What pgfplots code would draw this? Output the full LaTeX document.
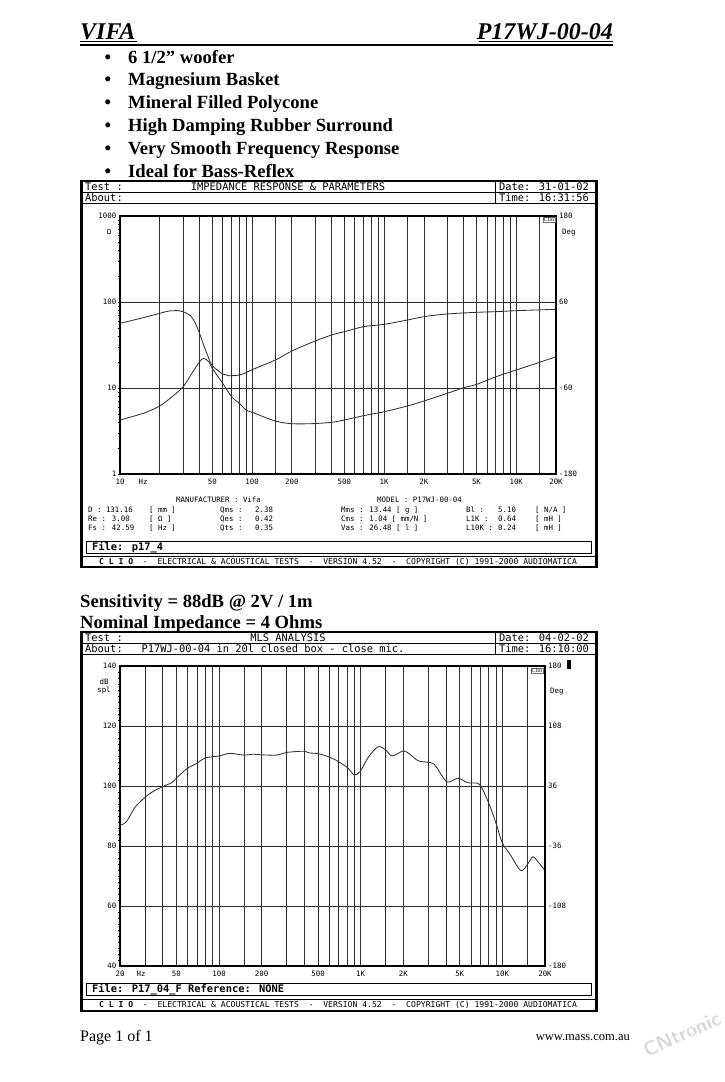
\documentclass[border=0pt]{standalone}
\usepackage{fontspec}
\setmainfont{Liberation Serif}
\newfontfamily\mono{DejaVu Sans Mono}
\usepackage{pgfplots}
\pgfplotsset{compat=1.18}
\newcommand\hdr{\mono\fontsize{10.4}{11}\selectfont}
\newcommand\smf{\mono\fontsize{7.4}{8}\selectfont}
\newcommand\ftf{\mono\fontsize{8.1}{9}\selectfont}
\begin{document}
\begin{tikzpicture}[x=1pt,y=1pt]
\fill[white] (0,0) rectangle (725,-1082);
\path[use as bounding box] (0,0) rectangle (725,-1082);

% ---------- heading ----------
\node[anchor=base west, inner sep=0, font=\fontsize{24}{24}\selectfont\bfseries\itshape] at (80,-39.5) {VIFA};
\node[anchor=base east, inner sep=0, font=\fontsize{24}{24}\selectfont\bfseries\itshape] at (613,-39.5) {P17WJ-00-04};
\draw[line width=1.1pt] (80,-41.8) -- (137,-41.8);
\draw[line width=1.1pt] (479,-41.8) -- (613,-41.8);
\draw[line width=2pt] (80,-44.8) -- (613,-44.8);
\foreach \t [count=\i] in {6 1/2” woofer, Magnesium Basket, Mineral Filled Polycone, High Damping Rubber Surround, Very Smooth Frequency Response, Ideal for Bass-Reflex}{
  \node[anchor=base west, inner sep=0, font=\fontsize{18.6}{19}\selectfont\bfseries] at (128,{-63-22.8*(\i-1)}) {\t};
  \node[anchor=base, inner sep=0, font=\fontsize{18.6}{19}\selectfont\bfseries] at (108,{-63-22.8*(\i-1)}) {\textbullet};
}

% ---------- chart 1 frame ----------
\draw[line width=2.6pt] (81.3,-181) rectangle (596.7,-567);
\draw[line width=0.9pt] (81,-192) -- (597,-192);
\draw[line width=0.9pt] (81,-203) -- (597,-203);
\draw[line width=0.9pt] (495,-181) -- (495,-203);
\node[anchor=west, inner sep=0, font=\hdr] at (85,-186.8) {Test :};
\node[anchor=center, inner sep=0, font=\hdr] at (288,-186.8) {IMPEDANCE RESPONSE \& PARAMETERS};
\node[anchor=west, inner sep=0, font=\hdr] at (499,-186.8) {Date: 31-01-02};
\node[anchor=west, inner sep=0, font=\hdr] at (85,-197.8) {About:};
\node[anchor=west, inner sep=0, font=\hdr] at (499,-197.8) {Time: 16:31:56};

\begin{axis}[at={(120pt,-474pt)}, anchor=south west, scale only axis, width=436pt, height=258pt,
  xmode=log, ymode=log, xmin=10, xmax=20000, ymin=1, ymax=1000,
  grid=major, major grid style={black!82, line width=0.75pt},
  axis line style={black, line width=1.3pt},
  xtick style={draw=none}, ytick style={draw=none},
  major tick length=0pt,
  minor y tick style={draw=black, line width=0.5pt}, minor tick length=2.5pt,
  tick align=outside, ytick pos=left,
  tick label style={font=\smf},
  xticklabel style={anchor=base, yshift=-10.5pt, inner sep=0pt},
  yticklabel style={anchor=east, inner sep=0pt, xshift=-3.5pt},
  xtick={10,20,30,40,50,60,70,80,90,100,150,200,300,400,500,600,700,800,900,1000,1500,2000,3000,4000,5000,6000,7000,8000,9000,10000,15000,20000},
  xticklabels={10,,,,50,,,,,100,,200,,,500,,,,,1K,,2K,,,5K,,,,,10K,,20K},
  ytick={1,10,100,1000}, yticklabels={1,10,100,1000}]
\addplot[black!80, line width=0.85pt, smooth, tension=0.5] coordinates {
(10,4.25) (15,5.08) (20,6.18) (24.8,7.93) (30,10.3) (35,14.8) (40,20.2) (43,22.1) (47,20.2) (50,16.9)
(60,11.3) (70,7.9) (80,6.64) (90,5.55) (100,5.22) (150,4.13) (200,3.85) (284,3.85) (400,3.99)
(500,4.25) (700,4.77) (1000,5.3) (1500,6.18) (2000,7.06) (3000,8.66) (4000,10.08) (5000,11.0)
(7000,13.5) (10000,16.2) (15000,19.9) (20000,23.1)};
\end{axis}
\begin{axis}[at={(120pt,-474pt)}, anchor=south west, scale only axis, width=436pt, height=258pt,
  xmode=log, xmin=10, xmax=20000, ymin=-180, ymax=180,
  axis x line=none, axis y line*=right,
  axis line style={black, line width=1.3pt}, ytick style={draw=none}, major tick length=0pt,
  tick label style={font=\smf},
  yticklabel style={anchor=west, inner sep=0pt, xshift=3pt},
  ytick={-180,-60,60,180}, yticklabels={-180,-60,60,180}]
\addplot[black!80, line width=0.85pt, smooth, tension=0.5] coordinates {
(10,30.3) (15,38.1) (20,44.2) (23.4,47.4) (27.8,47.9) (30,46.5) (34.1,40.9) (37.2,30.3) (40,16.3)
(43,0) (47,-18.6) (50,-28.9) (60,-40.5) (66.5,-42.8) (80,-41.9) (90,-38.6) (100,-34.5) (150,-20.9)
(200,-8.4) (284,3.8) (400,14.0) (500,18.6) (700,25.6) (1000,28.8) (1500,34.9) (2000,39.5)
(3000,43.3) (5000,45.6) (7000,46.5) (10000,47.9) (20000,49.8)};
\end{axis}
\node[anchor=base, inner sep=0, font=\smf] at (143,-484.5) {Hz};
\node[anchor=center, inner sep=0, font=\smf] at (109,-232) {Ω};
\node[anchor=west, inner sep=0, font=\smf] at (562,-233) {Deg};
\node[anchor=north east, draw=black!55, line width=0.4pt, inner sep=0.8pt, font=\fontsize{6}{6}\selectfont] at (555,-216.5) {Clio};

% parameters
\node[anchor=west, inner sep=0, font=\smf] at (176,-500) {MANUFACTURER : Vifa};
\node[anchor=west, inner sep=0, font=\smf] at (377,-500) {MODEL : P17WJ-00-04};
\foreach \y/\a/\b/\c/\d/\e/\f/\g/\h in
  {510/D : 131.16/[ mm ]/Qms :/2.38/Mms : 13.44 [ g ]/Bl/5.10/{[ N{/}A ]},
   519/Re : 3.00/[ Ω ]/Qes :/0.42/{Cms : 1.04  [ mm{/}N ]}/L1K/0.64/[ mH ],
   528/Fs : 42.59/[ Hz ]/Qts :/0.35/Vas : 26.48 [ l ]/L10K/0.24/[ mH ]}{
  \node[anchor=west, inner sep=0, font=\smf] at (88,-\y) {\a};
  \node[anchor=west, inner sep=0, font=\smf] at (149,-\y) {\b};
  \node[anchor=west, inner sep=0, font=\smf] at (220,-\y) {\c};
  \node[anchor=west, inner sep=0, font=\smf] at (255,-\y) {\d};
  \node[anchor=west, inner sep=0, font=\smf] at (341,-\y) {\e};
  \node[anchor=west, inner sep=0, font=\smf] at (466,-\y) {\f\ :};
  \node[anchor=west, inner sep=0, font=\smf] at (498,-\y) {\g};
  \node[anchor=west, inner sep=0, font=\smf] at (535,-\y) {\h};
}
\draw[line width=0.8pt] (86,-541) rectangle (591,-553);
\node[anchor=west, inner sep=0, font=\hdr\bfseries] at (92,-547) {File: p17\_4};
\draw[line width=0.9pt] (81,-556) -- (597,-556);
\node[anchor=center, inner sep=0, font=\ftf] at (338,-561.5) {\textbf{C L I O}\ \ -\ \ ELECTRICAL \& ACOUSTICAL TESTS\ \ -\ \ VERSION 4.52\ \ -\ \ COPYRIGHT (C) 1991-2000 AUDIOMATICA};

% ---------- middle text ----------
\node[anchor=base west, inner sep=0, font=\fontsize{18.6}{19}\selectfont\bfseries] at (80,-607.5) {Sensitivity = 88dB @ 2V / 1m};
\node[anchor=base west, inner sep=0, font=\fontsize{18.6}{19}\selectfont\bfseries] at (80,-628.5) {Nominal Impedance = 4 Ohms};

% ---------- chart 2 frame ----------
\draw[line width=2.6pt] (81.3,-632) rectangle (596.7,-1011);
\draw[line width=0.9pt] (81,-643) -- (597,-643);
\draw[line width=0.9pt] (81,-654) -- (597,-654);
\draw[line width=0.9pt] (495,-632) -- (495,-654);
\node[anchor=west, inner sep=0, font=\hdr] at (85,-637.8) {Test :};
\node[anchor=center, inner sep=0, font=\hdr] at (288,-637.8) {MLS ANALYSIS};
\node[anchor=west, inner sep=0, font=\hdr] at (499,-637.8) {Date: 04-02-02};
\node[anchor=west, inner sep=0, font=\hdr] at (85,-648.8) {About:\ \ \ P17WJ-00-04 in 20l closed box - close mic.};
\node[anchor=west, inner sep=0, font=\hdr] at (499,-648.8) {Time: 16:10:00};

\begin{axis}[at={(120pt,-966pt)}, anchor=south west, scale only axis, width=425pt, height=300pt,
  xmode=log, xmin=20, xmax=20000, ymin=40, ymax=140,
  grid=major, major grid style={black!82, line width=0.75pt},
  axis line style={black, line width=1.3pt},
  xtick style={draw=none}, ytick style={draw=none},
  major tick length=0pt,
  minor y tick num=9, minor y tick style={draw=black, line width=0.5pt}, minor tick length=2.5pt,
  tick align=outside, ytick pos=left,
  tick label style={font=\smf},
  xticklabel style={anchor=base, yshift=-10.5pt, inner sep=0pt},
  yticklabel style={anchor=east, inner sep=0pt, xshift=-3.5pt},
  xtick={20,30,40,50,60,70,80,90,100,150,200,300,400,500,600,700,800,900,1000,1500,2000,3000,4000,5000,6000,7000,8000,9000,10000,15000,20000},
  xticklabels={20,,,50,,,,,100,,200,,,500,,,,,1K,,2K,,,5K,,,,,10K,,20K},
  ytick={40,60,80,100,120,140}, yticklabels={40,60,80,100,120,140}]
\addplot[black!80, line width=0.85pt, smooth, tension=0.5] coordinates {
(20,86.9) (22.2,88.1) (25.5,92.9) (30,96.2) (34.3,98.2) (40,99.8) (46.2,101.1) (50,102.6) (59,105.7)
(70,107.6) (80,109.4) (100,110.0) (119,110.9) (150,110.3) (174,110.6) (200,110.4) (256,110.3)
(300,111.2) (400,111.6) (437,111.0) (500,110.8) (605,109.6) (700,108.1) (816,105.9) (900,103.7)
(990,104.8) (1140,109.8) (1330,113.1) (1500,112.0) (1670,110.0) (2000,111.7) (2220,110.6)
(2550,108.4) (3000,107.9) (3340,107.0) (4060,101.4) (4850,102.6) (5700,101.1) (6700,100.9)
(7200,99.2) (8200,93.1) (9100,87.0) (10000,81.0) (11400,77.0) (13500,71.8) (15200,74.2)
(16400,76.4) (17800,74.8) (20000,71.8)};
\end{axis}
\begin{axis}[at={(120pt,-966pt)}, anchor=south west, scale only axis, width=425pt, height=300pt,
  xmode=log, xmin=20, xmax=20000, ymin=-180, ymax=180,
  axis x line=none, axis y line*=right,
  axis line style={black, line width=1.3pt}, ytick style={draw=none}, major tick length=0pt,
  tick label style={font=\smf},
  yticklabel style={anchor=west, inner sep=0pt, xshift=3pt},
  ytick={-180,-108,-36,36,108,180}, yticklabels={-180,-108,-36,36,108,180}]
\addplot[draw=none] coordinates {(100,0)};
\end{axis}
\node[anchor=base, inner sep=0, font=\smf] at (141,-976.5) {Hz};
\node[anchor=center, inner sep=0, font=\smf] at (104,-682) {dB};
\node[anchor=center, inner sep=0, font=\smf] at (104,-690) {spl};
\node[anchor=west, inner sep=0, font=\smf] at (550,-692) {Deg};
\fill (567,-660) rectangle (571,-669);
\node[anchor=north east, draw=black!55, line width=0.4pt, inner sep=0.8pt, font=\fontsize{6}{6}\selectfont] at (543,-667.5) {Clio};
\draw[line width=0.8pt] (86,-983) rectangle (591,-995);
\node[anchor=west, inner sep=0, font=\hdr\bfseries] at (92,-989) {File: P17\_04\_F Reference: NONE};
\draw[line width=0.9pt] (81,-999) -- (597,-999);
\node[anchor=center, inner sep=0, font=\ftf] at (338,-1004.5) {\textbf{C L I O}\ \ -\ \ ELECTRICAL \& ACOUSTICAL TESTS\ \ -\ \ VERSION 4.52\ \ -\ \ COPYRIGHT (C) 1991-2000 AUDIOMATICA};

% ---------- footer ----------
\node[anchor=base west, inner sep=0, font=\fontsize{16}{16}\selectfont] at (80,-1041) {Page 1 of 1};
\node[anchor=base east, inner sep=0, font=\fontsize{12.5}{13}\selectfont] at (630,-1040) {www.mass.com.au};
\node[rotate=24, anchor=center, inner sep=0, font=\sffamily\bfseries\fontsize{20}{20}\selectfont, text=red!12!black!15] at (682,-1034) {CNtronic};
\end{tikzpicture}
\end{document}
